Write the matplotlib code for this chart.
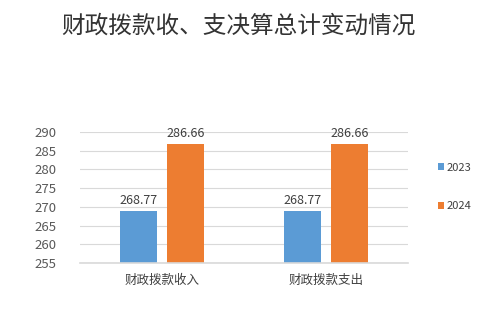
import numpy as np
import matplotlib
matplotlib.use("Agg")
import matplotlib.pyplot as plt

plt.rcParams['font.family'] = ['Noto Sans CJK SC', 'DejaVu Sans']

categories = ['财政拨款收入', '财政拨款支出']
years = ['2023', '2024']
values_2023 = [268.77, 268.77]
values_2024 = [286.66, 286.66]
colors = ['#5B9BD5', '#ED7D31']
yticks = [255, 260, 265, 270, 275, 280, 285, 290]

fig = plt.figure(figsize=(4.79, 3.11), dpi=100)
ax = fig.add_axes([0.167, 0.154, 0.685, 0.422])

x = np.arange(len(categories))
w = 0.225
off = 0.143
b1 = ax.bar(x - off, np.array(values_2023) - 255, w, bottom=255, color=colors[0], label=years[0])
b2 = ax.bar(x + off, np.array(values_2024) - 255, w, bottom=255, color=colors[1], label=years[1])

for bars, vals in ((b1, values_2023), (b2, values_2024)):
    for r, v in zip(bars, vals):
        ax.text(r.get_x() + r.get_width() / 2, v + 1.2, f'{v:.2f}', ha='center', va='bottom',
                fontsize=9, color='#404040')

ax.set_xlim(-0.5, 1.5)
ax.set_ylim(255, 290)
ax.set_yticks(yticks)
ax.set_xticks(x)
ax.set_xticklabels(categories, fontsize=9, color='#404040')
ax.tick_params(axis='y', labelsize=9.5, colors='#595959', length=0, pad=17)
ax.tick_params(axis='x', length=0, pad=8)
ax.grid(axis='y', color='#D9D9D9', linewidth=0.8)
ax.set_axisbelow(True)
for s in ['top', 'right', 'left']:
    ax.spines[s].set_visible(False)
ax.spines['bottom'].set_color('#D9D9D9')
ax.spines['bottom'].set_linewidth(1.2)

ax.legend(loc='center left', bbox_to_anchor=(1.06, 0.58), frameon=False, fontsize=8,
          handlelength=0.6, handleheight=0.6, handletextpad=0.2, labelspacing=2.6,
          labelcolor='#404040')

fig.text(0.497, 0.915, '财政拨款收、支决算总计变动情况', ha='center', va='center',
         fontsize=17, color='#333333')

fig.savefig('out.png', dpi=100)
